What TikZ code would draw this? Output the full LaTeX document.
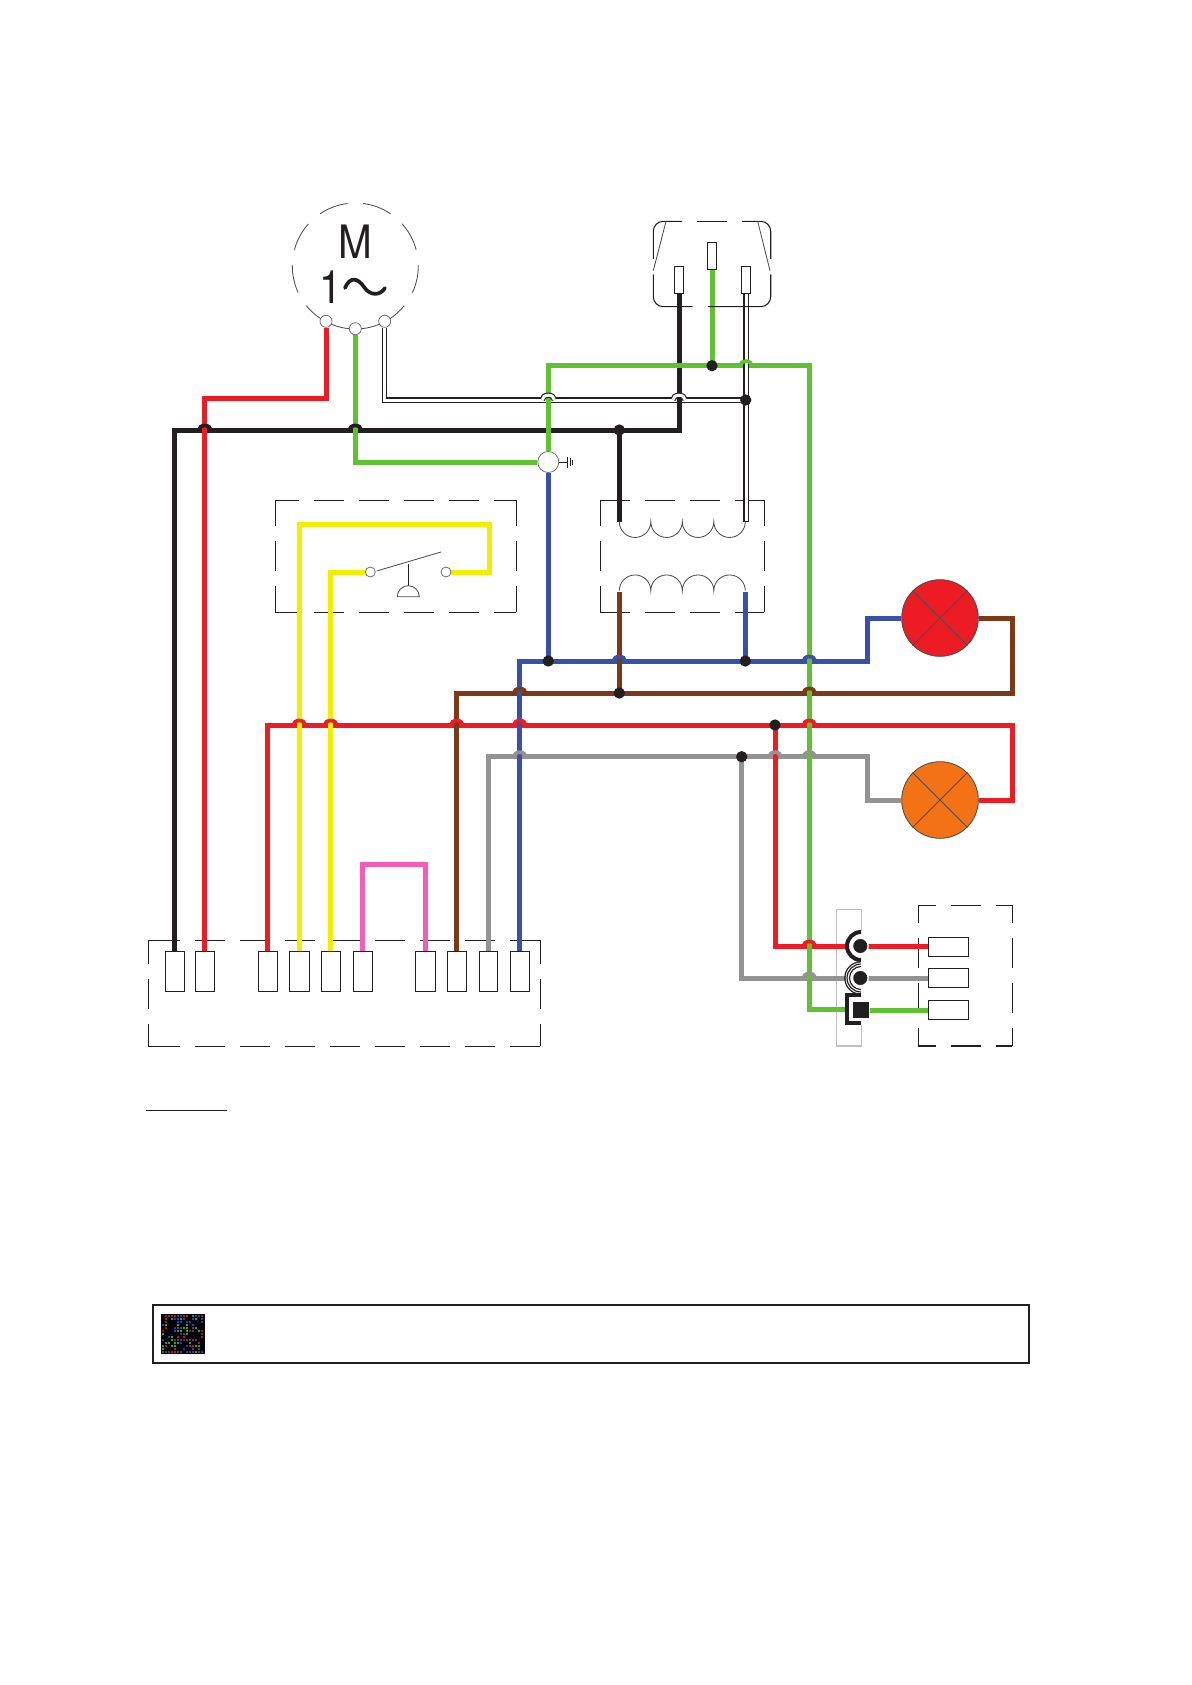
\documentclass[tikz,border=0pt]{standalone}
\usepackage{fontspec}
\setmainfont{TeX Gyre Heros}
\usetikzlibrary{calc}
\pgfdeclarelayer{frames}
\pgfdeclarelayer{wires}
\pgfsetlayers{frames,wires,main}
\definecolor{wblack}{HTML}{231F20}
\definecolor{wred}{HTML}{ED1C24}
\definecolor{wgreen}{HTML}{5EC231}
\definecolor{wblue}{HTML}{3A4FA8}
\definecolor{wbrown}{HTML}{7A3A17}
\definecolor{wyellow}{HTML}{F2EE00}
\definecolor{wpink}{HTML}{F45CB8}
\definecolor{wgrey}{HTML}{939393}
\definecolor{lorange}{HTML}{F47216}
\definecolor{nr}{HTML}{C01020}
\definecolor{ng}{HTML}{10B040}
\definecolor{nb}{HTML}{2040C0}
\tikzset{
  wire/.style={line width=3pt,line cap=butt,line join=miter},
  whitewire/.style={draw=wblack,double=white,line width=0.7pt,double distance=1.8pt},
  thinl/.style={draw=wblack,line width=0.65pt},
  hair/.style={draw=black!70,line width=0.5pt},
  term/.style={draw=wblack,fill=white,line width=0.65pt,inner sep=0pt,minimum width=#1*0.6pt,minimum height=24pt},
  smallterm/.style={draw=wblack,fill=white,line width=0.65pt,inner sep=0pt,minimum width=24pt,minimum height=11.4pt},
  plugpin/.style={draw=wblack,fill=white,line width=0.65pt,inner sep=0pt,minimum width=5.6pt,minimum height=16.4pt},
  port/.style={circle,draw=black!60,fill=white,line width=0.45pt,inner sep=0pt,minimum size=#1*0.6pt},
  dot/.style={circle,fill=wblack,inner sep=0pt,minimum size=6.8pt},
  lamp/.style={circle,draw=black!70,line width=0.5pt,fill=#1,inner sep=0pt,minimum size=46pt},
  pin/.style={circle,fill=wblack,draw=white,line width=0.8pt,inner sep=0pt,minimum size=9.4pt},
  pinsq/.style={rectangle,fill=wblack,draw=white,line width=0.9pt,inner sep=0pt,minimum size=10.4pt},
  bigletter/.style={font=\fontsize{27.6}{28}\selectfont,text=wblack,inner sep=0pt,xscale=0.88}
}
\newcommand\dbox[6]{%
  \draw[thinl,dash pattern=on 18pt off 9pt,dash phase=#5pt] (#1,#2) -- (#3,#2);
  \draw[thinl,dash pattern=on 18pt off 9pt,dash phase=#5pt] (#1,#4) -- (#3,#4);
  \draw[thinl,dash pattern=on 18pt off 9pt,dash phase=#6pt] (#1,#2) -- (#1,#4);
  \draw[thinl,dash pattern=on 18pt off 9pt,dash phase=#6pt] (#3,#2) -- (#3,#4);}
\newcommand\hop[2]{\draw[wire,draw=#1,line width=2.2pt] #2 ++(-6,0) arc (180:360:6 and 4.5);}
\newcommand\hopw[1]{\draw[whitewire] #1 ++(-6,0) arc (180:360:6 and 4.5);}
\begin{document}
\begin{tikzpicture}[x=0.6pt,y=-0.6pt]
\useasboundingbox (0,0) rectangle (1191,1685);

% ---- motor
\foreach \a/\b in {-83/-56,-42/-15,-1/25,39/62,62/118,118/141,155/181,195/222,236/263}
  \draw[hair] (355.3,266) ++(\a:63) arc (\a:\b:63);
\node[bigletter] (mM) at (355,242) {M};
\node[bigletter] (mOne) at (331,287) {1};
\draw[wblack,line width=2.2pt,line cap=round] (345,288) .. controls (350,276) and (358,278) .. (364,287) .. controls (370,296) and (380,296) .. (385,288);
\node[port=12] (m1) at (326,321.3) {};
\node[port=12] (m2) at (355.3,328.7) {};
\node[port=12] (m3) at (384.7,321.3) {};

% ---- mains plug
\draw[thinl,rounded corners=6pt] (653.3,259) |- (682,221.3);
\draw[thinl] (697,221.3) -- (727,221.3);
\draw[thinl,rounded corners=6pt] (742,221.3) -| (770.7,259);
\draw[thinl,rounded corners=6pt] (653.3,274.3) |- (692.7,306.7);
\draw[thinl,rounded corners=6pt] (708,306.7) -| (770.7,274.3);
\draw[hair] (666,221.3) -- (653.3,270.7);
\draw[hair] (757.7,221.3) -- (770,270.7);
\node[plugpin] (pL) at (679,280) {};
\node[plugpin] (pE) at (712,256) {};
\node[plugpin] (pR) at (746,280) {};

% ---- ground
\node[port=21] (gnd) at (548.3,462) {};
\draw[thinl,line width=0.6pt] (gnd.east) -- (567.7,462);
\draw[thinl,line width=0.6pt] (567.7,456.5) -- (567.7,467.5);
\draw[thinl,line width=0.6pt] (570.3,458) -- (570.3,466);
\draw[thinl,line width=0.6pt] (572.7,459.5) -- (572.7,464.5);

% ---- dashed frames
\begin{pgfonlayer}{frames}
  \dbox{275.3}{500.3}{516.3}{612.3}{3.6}{2.4}
  \dbox{600.3}{500.3}{764.3}{612.3}{0}{2.4}
  \dbox{918.3}{905.3}{1012.3}{1046}{7.6}{7.6}
  \draw[thinl] (148.3,940.3) -- (180,940.3);
  \draw[thinl] (148.3,1046.3) -- (180,1046.3);
  \draw[thinl,dash pattern=on 18pt off 9pt] (195,940.3) -- (540.3,940.3);
  \draw[thinl,dash pattern=on 18pt off 9pt] (195,1046.3) -- (540.3,1046.3);
  \draw[thinl,dash pattern=on 18pt off 9pt,dash phase=3.8pt] (148.3,940.3) -- (148.3,1046.3);
  \draw[thinl,dash pattern=on 18pt off 9pt,dash phase=3.8pt] (540.3,940.3) -- (540.3,1046.3);
  \draw[draw=black!25,line width=0.8pt] (861.3,931) -- (861.3,909.3) -- (836.3,909.3) -- (836.3,1046) -- (861.3,1046) -- (861.3,1024.7);
\end{pgfonlayer}

% ---- transformer coils
\draw[hair] (619.3,521.7) arc (180:0:15.75) arc (180:0:15.75) arc (180:0:15.75) arc (180:0:15.75);
\draw[hair] (619.3,590.7) arc (180:360:15.75) arc (180:360:15.75) arc (180:360:15.75) arc (180:360:15.75);

% ---- switch
\node[port=10] (s1) at (370.3,572) {};
\node[port=10] (s2) at (446,572) {};
\draw[hair] (s1.east) ++(1,-1) -- (441,552);
\draw[thinl,line width=0.6pt] (408.3,564) -- (408.3,585.7);
\draw[hair] (397.3,596.7) arc (180:360:11) -- cycle;

% ---- terminals of the connector
\node[term=19] (c1) at (174.8,971.3) {};
\node[term=19] (c2) at (204.8,971.3) {};
\node[term=19] (c3) at (267.8,971.3) {};
\node[term=20] (c4) at (299.3,971.3) {};
\node[term=19] (c5) at (330.8,971.3) {};
\node[term=19] (c6) at (362.8,971.3) {};
\node[term=20] (c7) at (425.3,971.3) {};
\node[term=19] (c8) at (456.8,971.3) {};
\node[term=18] (c9) at (488.3,971.3) {};
\node[term=19] (c10) at (519.8,971.3) {};

% ---- socket
\node[smallterm] (t1) at (948.3,946.8) {};
\node[smallterm] (t2) at (948.3,977.8) {};
\node[smallterm] (t3) at (948.3,1009.8) {};
\node[pin] (pin1) at (860.3,946) {};
\node[pin] (pin2) at (860.3,978) {};
\node[pinsq] (pin3) at (861,1010) {};
\draw[wblack,line width=2.4pt] (861,932) arc (-90:-270:14);
\draw[wblack,line width=0.7pt] (861,964) arc (-90:-270:14);
\draw[wblack,line width=0.7pt] (861,966.5) arc (-90:-270:11.5);
\draw[wblack,line width=0.7pt] (861,961.8) arc (-90:-270:16.2);
\draw[wblack,line width=2.4pt] (861,994.5) -- (846.8,994.5) -- (846.8,1023) -- (861,1023);

% ---- lamps
\node[lamp=wred] (l1) at (940,618) {};
\draw[hair] (l1.north west) -- (l1.south east);
\draw[hair] (l1.north east) -- (l1.south west);
\node[lamp=lorange] (l2) at (940,800) {};
\draw[hair] (l2.north west) -- (l2.south east);
\draw[hair] (l2.north east) -- (l2.south west);

% ---- junction dots
\node[dot] (d1) at (712,365.7) {};
\node[dot] (d2) at (745.7,400) {};
\node[dot] (d3) at (619.3,430) {};
\node[dot] (d4) at (548.3,661) {};
\node[dot] (d5) at (619.3,693) {};
\node[dot] (d6) at (745.3,661) {};
\node[dot] (d7) at (775,725) {};
\node[dot] (d8) at (741.7,756.7) {};

% ---- bend points
\coordinate (ra) at (204.8,398);
\coordinate (ba) at (679,430);
\coordinate (g1) at (809.3,365.7);
\coordinate (g2) at (809.3,1009.3);
\coordinate (g3) at (845,1009.3);
\coordinate (tb) at (619.3,521.7);
\coordinate (tw) at (746,521.7);
\coordinate (tbr) at (619.3,591.7);
\coordinate (tbl) at (745.3,591.7);
\coordinate (bu0) at (519.8,661);
\coordinate (bu1) at (867.3,661);
\coordinate (bu2) at (867.3,618);
\coordinate (br0) at (1012.7,693);
\coordinate (br1) at (1012.7,618);
\coordinate (re0) at (1012.7,725);
\coordinate (re1) at (1012.7,800);
\coordinate (gy0) at (867.3,756.7);
\coordinate (gy1) at (867.3,800);
\coordinate (y1) at (489,524.3);
\coordinate (y2) at (489,572);
\coordinate (pk) at (394,864.3);
\coordinate (ar) at (846,946);
\coordinate (ag) at (846,978);

\begin{pgfonlayer}{wires}
  % white horizontal, black, red
  \draw[whitewire] (m3.south) |- (d2.center);
  \draw[wire,wblack] (c1.north) |- (ba) -- (pL.south);
  \draw[wire,wblack] (d3.center) -- (tb);
  \draw[wire,wred] (m1.south) |- (ra) -- (c2.north);
  % grey, red, brown, blue
  \draw[wire,wgrey] (c9.north) |- (gy0) -- (gy1) -- (l2.west);
  \draw[wire,wgrey] (d8.center) |- (ag);
  \draw[wire,wgrey] (pin2.center) -- (t2.west |- pin2);
  \draw[wire,wred] (c3.north) |- (re0) -- (re1) -- (l2.east);
  \draw[wire,wred] (d7.center) |- (ar);
  \draw[wire,wred] (pin1.center) -- (t1.west |- pin1);
  \draw[wire,wbrown] (c8.north) |- (br0) -- (br1) -- (l1.east);
  \draw[wire,wblue] (c10.north) |- (bu1) -- (bu2) -- (l1.west);
  \draw[wire,wblue] (gnd.south) -- (d4.center);
  \draw[wire,wblue] (tbl) -- (d6.center);
  \draw[wire,wbrown] (tbr) -- (d5.center);
  % yellow, pink
  \draw[wire,wyellow] (c4.north) |- (y1) -- (y2) -- (s2.east);
  \draw[wire,wyellow] (c5.north) |- (s1.west);
  \draw[wire,wpink] (c6.north) |- (pk) -| (c7.north);
  % green
  \draw[wire,wgreen] (m2.south) |- (gnd.west);
  \draw[wire,wgreen] (gnd.north) |- (g1) -- (g2) -- (g3);
  \draw[wire,wgreen] (pE.south) -- (d1.center);
  \draw[wire,wgreen] (pin3.center) -- (t3.west |- pin3);
  % white vertical
  \draw[whitewire] (pR.south) -- (tw);
  \draw[thinl,line width=0.7pt] ($(tw)+(-3,0)$) -- ($(tw)+(3,0)$);
  % hops
  \hop{wblack}{(c2.north |- ba)}
  \hop{wblack}{(m2.south |- ba)}
  \hopw{(548.3,399.7)}
  \hopw{(679,399.7)}
  \hop{wgreen}{(pR.south |- g1)}
  \hop{wblue}{(tbr |- bu0)}
  \hop{wblue}{(g1 |- bu0)}
  \hop{wbrown}{(c10.north |- br0)}
  \hop{wbrown}{(g1 |- br0)}
  \hop{wred}{(c4.north |- re0)}
  \hop{wred}{(c5.north |- re0)}
  \hop{wred}{(c8.north |- re0)}
  \hop{wred}{(c10.north |- re0)}
  \hop{wred}{(g1 |- re0)}
  \hop{wgrey}{(c10.north |- gy0)}
  \hop{wgrey}{(d7 |- gy0)}
  \hop{wgrey}{(g1 |- gy0)}
  \hop{wred}{(g1 |- ar)}
  \hop{wgrey}{(g1 |- ag)}
\end{pgfonlayer}

% ---- underline and bottom box
\draw[thinl,line width=0.6pt] (146,1110.3) -- (226.7,1110.3);
\draw[thinl,line width=1pt] (153.3,1305) rectangle (1029,1362.7);
\fill[black] (161.3,1314) rectangle (205,1353.7);
\pgfmathsetseed{11}
\foreach \i in {0,...,13}{
  \foreach \j in {0,...,12}{
    \pgfmathtruncatemacro\k{random(0,5)}
    \ifnum\k=0 \fill[nr] (162+3*\i,1315+3*\j) rectangle +(2,2);\fi
    \ifnum\k=1 \fill[ng] (162+3*\i,1315+3*\j) rectangle +(2,2);\fi
    \ifnum\k=2 \fill[nb] (162+3*\i,1315+3*\j) rectangle +(2,2);\fi
  }
}
\end{tikzpicture}
\end{document}
